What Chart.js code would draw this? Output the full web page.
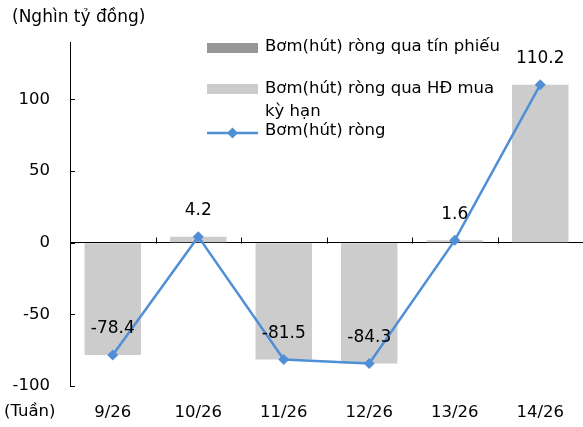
<!DOCTYPE html>
<html>
<head>
<meta charset="utf-8">
<script src="https://cdn.jsdelivr.net/npm/chart.js@4/dist/chart.umd.min.js"></script>
<style>
html,body{margin:0;padding:0;background:#fff;}
#wrap{width:583px;height:427px;position:relative;}
</style>
</head>
<body>
<div id="wrap"><canvas id="c" width="583" height="427"></canvas></div>
<script>
const categories = ['9/26', '10/26', '11/26', '12/26', '13/26', '14/26'];
const tinPhieu = [0, 0, 0, 0, 0, 0];
const hdMuaKyHan = [-78.4, 4.2, -81.5, -84.3, 1.6, 110.2];
const bomHutRong = [-78.4, 4.2, -81.5, -84.3, 1.6, 110.2];
const yTicks = [-100, -50, 0, 50, 100];
const seriesNames = ['Bơm(hút) ròng qua tín phiếu', 'Bơm(hút) ròng qua HĐ mua kỳ hạn', 'Bơm(hút) ròng'];
const unitLabel = '(Nghìn tỷ đồng)';
const xUnitLabel = '(Tuần)';

const FONT = 'DejaVu Sans';
const FS = 16.5;
const FSL = 17;
const DARK = '#969696';
const LIGHT = '#CCCCCC';
const BLUE = '#4F8FD6';

const extras = {
  id: 'extras',
  afterDatasetsDraw(chart) {
    const ctx = chart.ctx;
    const x = chart.scales.x, y = chart.scales.y;
    const area = chart.chartArea;
    ctx.save();
    ctx.strokeStyle = '#000';
    ctx.lineWidth = 1;
    yTicks.forEach(v => {
      const py = Math.round(y.getPixelForValue(v)) + 0.5;
      ctx.beginPath();
      ctx.moveTo(area.left, py);
      ctx.lineTo(area.left + 5, py);
      ctx.stroke();
    });
    const zy = Math.round(y.getPixelForValue(0)) + 0.5;
    for (let i = 1; i < categories.length; i++) {
      const bx = Math.round((x.getPixelForValue(i - 1) + x.getPixelForValue(i)) / 2) + 0.5;
      ctx.beginPath();
      ctx.moveTo(bx, zy);
      ctx.lineTo(bx, zy - 6);
      ctx.stroke();
    }
    const meta = chart.getDatasetMeta(2);
    ctx.fillStyle = '#000';
    ctx.font = FSL + 'px "' + FONT + '"';
    ctx.textAlign = 'center';
    ctx.textBaseline = 'middle';
    meta.data.forEach((pt, i) => {
      ctx.fillText(bomHutRong[i].toFixed(1), pt.x, pt.y - 26);
    });
    ctx.textAlign = 'left';
    ctx.fillText(unitLabel, 12, 18);
    ctx.font = FS + 'px "' + FONT + '"';
    ctx.fillText(xUnitLabel, 4, 412);
    const lx = 207, lw = 51, tx = 265;
    ctx.fillStyle = DARK;
    ctx.fillRect(lx, 43, lw, 10);
    ctx.fillStyle = LIGHT;
    ctx.fillRect(lx, 84, lw, 10);
    ctx.strokeStyle = BLUE;
    ctx.lineWidth = 2.5;
    ctx.beginPath();
    ctx.moveTo(lx, 133);
    ctx.lineTo(lx + lw, 133);
    ctx.stroke();
    ctx.fillStyle = BLUE;
    ctx.beginPath();
    const cx = lx + lw / 2, cy = 133, r = 5.5;
    ctx.moveTo(cx, cy - r); ctx.lineTo(cx + r, cy); ctx.lineTo(cx, cy + r); ctx.lineTo(cx - r, cy); ctx.closePath();
    ctx.fill();
    ctx.fillStyle = '#000';
    ctx.fillText(seriesNames[0], tx, 47);
    ctx.fillText('Bơm(hút) ròng qua HĐ mua', tx, 89);
    ctx.fillText('kỳ hạn', tx, 112);
    ctx.fillText(seriesNames[2], tx, 131);
    ctx.restore();
  }
};

new Chart(document.getElementById('c'), {
  type: 'bar',
  data: {
    labels: categories,
    datasets: [
      { type: 'bar', label: seriesNames[0], data: tinPhieu, backgroundColor: DARK, stack: 's', order: 2,
        categoryPercentage: 1, barPercentage: 0.66 },
      { type: 'bar', label: seriesNames[1], data: hdMuaKyHan, backgroundColor: LIGHT, stack: 's', order: 2,
        categoryPercentage: 1, barPercentage: 0.66 },
      { type: 'line', label: seriesNames[2], data: bomHutRong, borderColor: BLUE, backgroundColor: BLUE,
        borderWidth: 2.5, pointStyle: 'rectRot', pointRadius: 5.5, pointBorderWidth: 0, tension: 0, order: 0 }
    ]
  },
  plugins: [extras],
  options: {
    responsive: false,
    animation: false,
    devicePixelRatio: 1,
    layout: { autoPadding: false, padding: { top: 42, left: 0, right: 0, bottom: 0 } },
    plugins: { legend: { display: false }, tooltip: { enabled: false }, title: { display: false } },
    scales: {
      x: {
        stacked: true,
        grid: { display: false, drawTicks: false },
        border: { display: false },
        ticks: { color: '#000', font: { family: FONT, size: FS }, padding: 17, maxRotation: 0 },
        afterFit(s) { s.height = 41; s.paddingLeft = 0; s.paddingRight = 0; }
      },
      y: {
        stacked: true,
        min: -100, max: 140,
        afterBuildTicks(s) { s.ticks = yTicks.map(v => ({ value: v })); },
        grid: { drawTicks: false, color: c => (c.tick && c.tick.value === 0) ? '#000' : 'rgba(0,0,0,0)', lineWidth: 1 },
        border: { display: true, color: '#000', width: 1 },
        ticks: { color: '#000', font: { family: FONT, size: FS }, padding: 20 },
        afterFit(s) { s.width = 70; s.paddingTop = 0; s.paddingBottom = 0; }
      }
    }
  }
});
</script>
</body>
</html>
